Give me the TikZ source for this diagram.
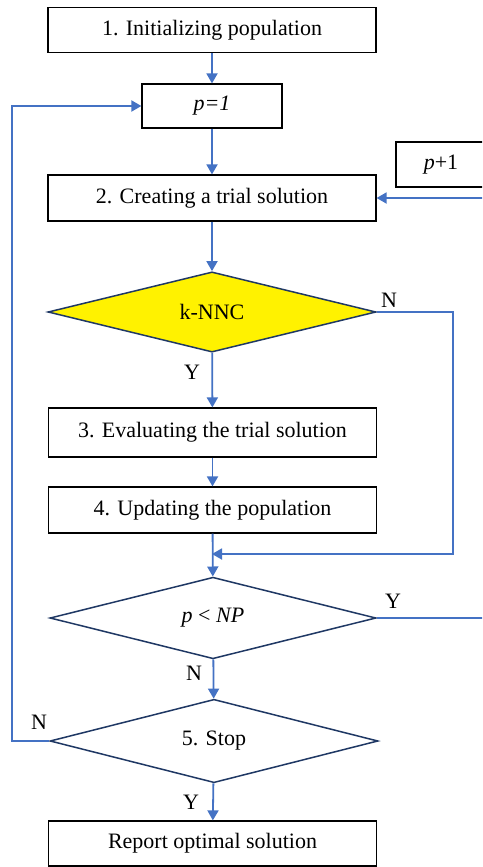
\documentclass[tikz,border=0pt]{standalone}
\usepackage{fontspec}
\setmainfont{Liberation Serif}
\usetikzlibrary{shapes.geometric,arrows.meta}
\definecolor{flowblue}{HTML}{4472C4}
\definecolor{navy}{HTML}{1F3864}
\begin{document}
\begin{tikzpicture}[x=1pt,y=-1pt,
  txt/.style={font=\fontsize{22}{25}\selectfont},
  box/.style={txt,draw=black,line width=1.2pt,fill=white,inner sep=0pt,minimum width=328pt,minimum height=45pt},
  dec/.style={txt,draw=navy,shape=diamond,line width=1.5pt,inner sep=0pt,minimum width=328pt,minimum height=80pt},
  line/.style={draw=flowblue,line width=1.8pt},
  flow/.style={line,-{Triangle[length=10pt,width=11pt]}},
  lab/.style={txt,inner sep=0pt}]
\clip (0,0) rectangle (482,867);
\fill[white] (0,0) rectangle (482,867);
\node[box] (b1) at (212,30) {1. Initializing population};
\node[box,minimum width=140pt,minimum height=44pt] (p1) at (212,106) {\textit{p=1}};
\node[box,minimum width=90pt] (pp) at (441,164.5) {\textit{p}+1};
\node[box,minimum height=46pt] (b2) at (212,198) {2. Creating a trial solution};
\node[dec,fill=yellow] (d1) at (212,312) {k-NNC};
\node[box,minimum height=49pt] (b3) at (212.5,432.5) {3. Evaluating the trial solution};
\node[box,minimum height=46pt] (b4) at (212.5,510) {4. Updating the population};
\node[dec,minimum width=326pt] (d2) at (213,618) {\textit{p} < \textit{NP}};
\node[dec,minimum height=81pt] (d3) at (214,741) {5. Stop};
\node[box,minimum height=45pt] (rep) at (212.5,843.5) {Report optimal solution};
% labels
\node[lab] (ln1) at (389,300) {N};
\node[lab] (ly1) at (192,372) {Y};
\node[lab] (ly2) at (393,601) {Y};
\node[lab] (ln2) at (194,673) {N};
\node[lab] (ln3) at (39,722) {N};
\node[lab] (ly3) at (191,802) {Y};
% coordinates
\coordinate (j1) at (212,554);
\coordinate (nr) at (453,554);
\coordinate (er1) at (492,618);
\coordinate (er2) at (492,198);
\coordinate (lc) at (12,741);
% connectors
\draw[flow] (b1) -- (p1);
\draw[flow] (p1) -- (b2);
\draw[flow] (b2) -- (d1);
\draw[flow] (d1) -- (b3);
\draw[flow] (b3) -- (b4);
\draw[flow] (b4) -- (d2);
\draw[flow] (d1.east) -| (nr) -- (j1);
\draw[flow] (d2) -- (d3);
\draw[flow] (d3) -- (rep);
\draw[line] (d2.east) -- (er1);
\draw[flow] (er2) -- (b2.east);
\draw[flow] (d3.west) -- (lc) |- (p1.west);
\end{tikzpicture}
\end{document}
